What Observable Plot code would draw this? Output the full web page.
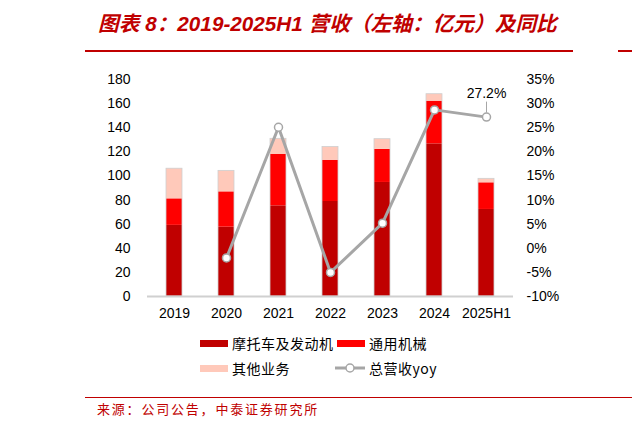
<!DOCTYPE html>
<html>
<head>
<meta charset="utf-8">
<script src="https://cdn.jsdelivr.net/npm/d3@7"></script>
<script src="https://cdn.jsdelivr.net/npm/@observablehq/plot@0.6"></script>
<style>
  html, body { margin: 0; padding: 0; background: #fff; }
  body { width: 632px; height: 426px; position: relative; overflow: hidden; font-family: "Liberation Sans", Arial, sans-serif; }
  .abs { position: absolute; white-space: nowrap; }
  #title { left: 98px; top: 7px; font-size: 20.7px; font-weight: bold; font-style: italic; color: #C00000; font-family: "Liberation Sans", "Noto Sans CJK SC", sans-serif; }
  #title .cjk { font-family: "Noto Sans CJK SC", sans-serif; font-weight: bold; }
  .hline { position: absolute; background: #C00000; height: 1.5px; }
  .leg { font-family: "Noto Sans CJK SC", sans-serif; font-size: 14px; letter-spacing: 0.5px; color: #000; line-height: 18px; }
  .sw { position: absolute; width: 28px; height: 7px; }
  #source { left: 97px; top: 400px; font-family: "Noto Sans CJK SC", sans-serif; font-size: 13px; letter-spacing: 1.8px; color: #C00000; line-height: 18px; }
  #chart { position: absolute; left: 0; top: 0; }
</style>
</head>
<body>
<div id="chart"></div>
<div id="title" class="abs"><span class="cjk">图表</span> 8<span class="cjk">：</span>2019-2025H1 <span class="cjk">营收（左轴：亿元）及同比</span></div>
<div class="hline" style="left:85px; top:50px; width:488px;"></div>
<div class="hline" style="left:618px; top:50px; width:14px;"></div>
<div id="legend"></div>
<div class="hline" style="left:85px; top:396.5px; width:547px;"></div>
<div id="source" class="abs">来源：公司公告，中泰证券研究所</div>
<script>
const years = ["2019", "2020", "2021", "2022", "2023", "2024", "2025H1"];
const seriesNames = ["摩托车及发动机", "通用机械", "其他业务"];
const motoValues = [59, 57.5, 75.2, 78.8, 94.6, 126.6, 72.2];
const generalValues = [22, 29.3, 42.6, 34.2, 27.4, 35.4, 22.1];
const otherValues = [25, 17.4, 13, 11, 8.5, 5.8, 3.3];
const yoyValues = [null, -2.0, 25.1, -5.0, 5.2, 28.7, 27.2];
const leftTicks = [0, 20, 40, 60, 80, 100, 120, 140, 160, 180];
const rightTicks = [-10, -5, 0, 5, 10, 15, 20, 25, 30, 35];
const colors = ["#C00000", "#FF0000", "#FFC9BA"];
const lineColor = "#A6A6A6";

// map yoy (%) onto the left axis units: -10% -> 0, 35% -> 180
const toLeft = p => (p + 10) * 4;

const stacked = [];
years.forEach((y, i) => {
  [motoValues, generalValues, otherValues].forEach((arr, s) => {
    stacked.push({year: y, series: seriesNames[s], value: arr[i]});
  });
});
const totals = years.map((y, i) => ({year: y, total: motoValues[i] + generalValues[i] + otherValues[i]}));
const yoy = years.map((y, i) => ({year: y, yoy: yoyValues[i]})).filter(d => d.yoy != null);
const lastYoy = yoy[yoy.length - 1];

const chart = Plot.plot({
  width: 632,
  height: 426,
  marginTop: 79,
  marginBottom: 130,
  marginLeft: 147,
  marginRight: 119,
  style: {fontFamily: "'Liberation Sans', Arial, sans-serif", fontSize: "14px", color: "#000", background: "transparent"},
  x: {domain: years, paddingInner: 0.69, paddingOuter: 0.345, label: null},
  y: {domain: [0, 180], label: null},
  color: {domain: seriesNames, range: colors},
  marks: [
    Plot.barY(stacked, {x: "year", y: "value", fill: "series", order: seriesNames}),
    Plot.barY(totals, {x: "year", y: "total", fill: "none", stroke: "#cfcfcf", strokeWidth: 0.8}),
    Plot.ruleY([0], {stroke: "#d0d0d0", strokeWidth: 2}),
    Plot.axisY({anchor: "left", ticks: leftTicks, tickSize: 0, tickPadding: 17, label: null, fontSize: 14}),
    Plot.axisY({anchor: "right", ticks: rightTicks.map(toLeft), tickFormat: v => `${Math.round(v / 4 - 10)}%`, tickSize: 0, tickPadding: 13, label: null, fontSize: 14}),
    Plot.axisX({tickSize: 0, tickPadding: 12, label: null, fontSize: 14}),
    Plot.line(yoy, {x: "year", y: d => toLeft(d.yoy), stroke: lineColor, strokeWidth: 3, strokeLinejoin: "round"}),
    Plot.dot(yoy, {x: "year", y: d => toLeft(d.yoy), r: 4, fill: "#fff", stroke: lineColor, strokeWidth: 1.5}),
    Plot.ruleX([lastYoy], {x: "year", y1: d => toLeft(d.yoy), y2: d => toLeft(d.yoy), insetTop: -15, insetBottom: 4, stroke: lineColor, strokeWidth: 1}),
    Plot.text([lastYoy], {x: "year", y: d => toLeft(d.yoy), text: d => `${d.yoy.toFixed(1)}%`, dy: -24, fontSize: 14, fill: "#000"})
  ]
});
document.getElementById("chart").appendChild(chart);

// legend
const legend = document.getElementById("legend");
const items = [
  {label: seriesNames[0], color: colors[0], x: 200, y: 343, type: "bar"},
  {label: seriesNames[1], color: colors[1], x: 337, y: 343, type: "bar"},
  {label: seriesNames[2], color: colors[2], x: 200, y: 368, type: "bar"},
  {label: "总营收yoy", color: lineColor, x: 335, y: 368, type: "line"}
];
items.forEach(it => {
  if (it.type === "bar") {
    const sw = document.createElement("div");
    sw.className = "sw";
    sw.style.left = it.x + "px";
    sw.style.top = (it.y - 3.5) + "px";
    sw.style.background = it.color;
    legend.appendChild(sw);
  } else {
    const ns = "http://www.w3.org/2000/svg";
    const svg = document.createElementNS(ns, "svg");
    svg.setAttribute("width", 32);
    svg.setAttribute("height", 12);
    svg.style.position = "absolute";
    svg.style.left = it.x + "px";
    svg.style.top = (it.y - 6) + "px";
    const l = document.createElementNS(ns, "line");
    l.setAttribute("x1", 0); l.setAttribute("x2", 30); l.setAttribute("y1", 6); l.setAttribute("y2", 6);
    l.setAttribute("stroke", it.color); l.setAttribute("stroke-width", 3);
    const c = document.createElementNS(ns, "circle");
    c.setAttribute("cx", 15); c.setAttribute("cy", 6); c.setAttribute("r", 4);
    c.setAttribute("fill", "#fff"); c.setAttribute("stroke", it.color); c.setAttribute("stroke-width", 1.5);
    svg.appendChild(l); svg.appendChild(c);
    legend.appendChild(svg);
  }
  const t = document.createElement("div");
  t.className = "abs leg";
  t.style.left = (it.x + (it.type === "bar" ? 32 : 34)) + "px";
  t.style.top = (it.y - 9) + "px";
  t.textContent = it.label;
  legend.appendChild(t);
});
</script>
</body>
</html>
